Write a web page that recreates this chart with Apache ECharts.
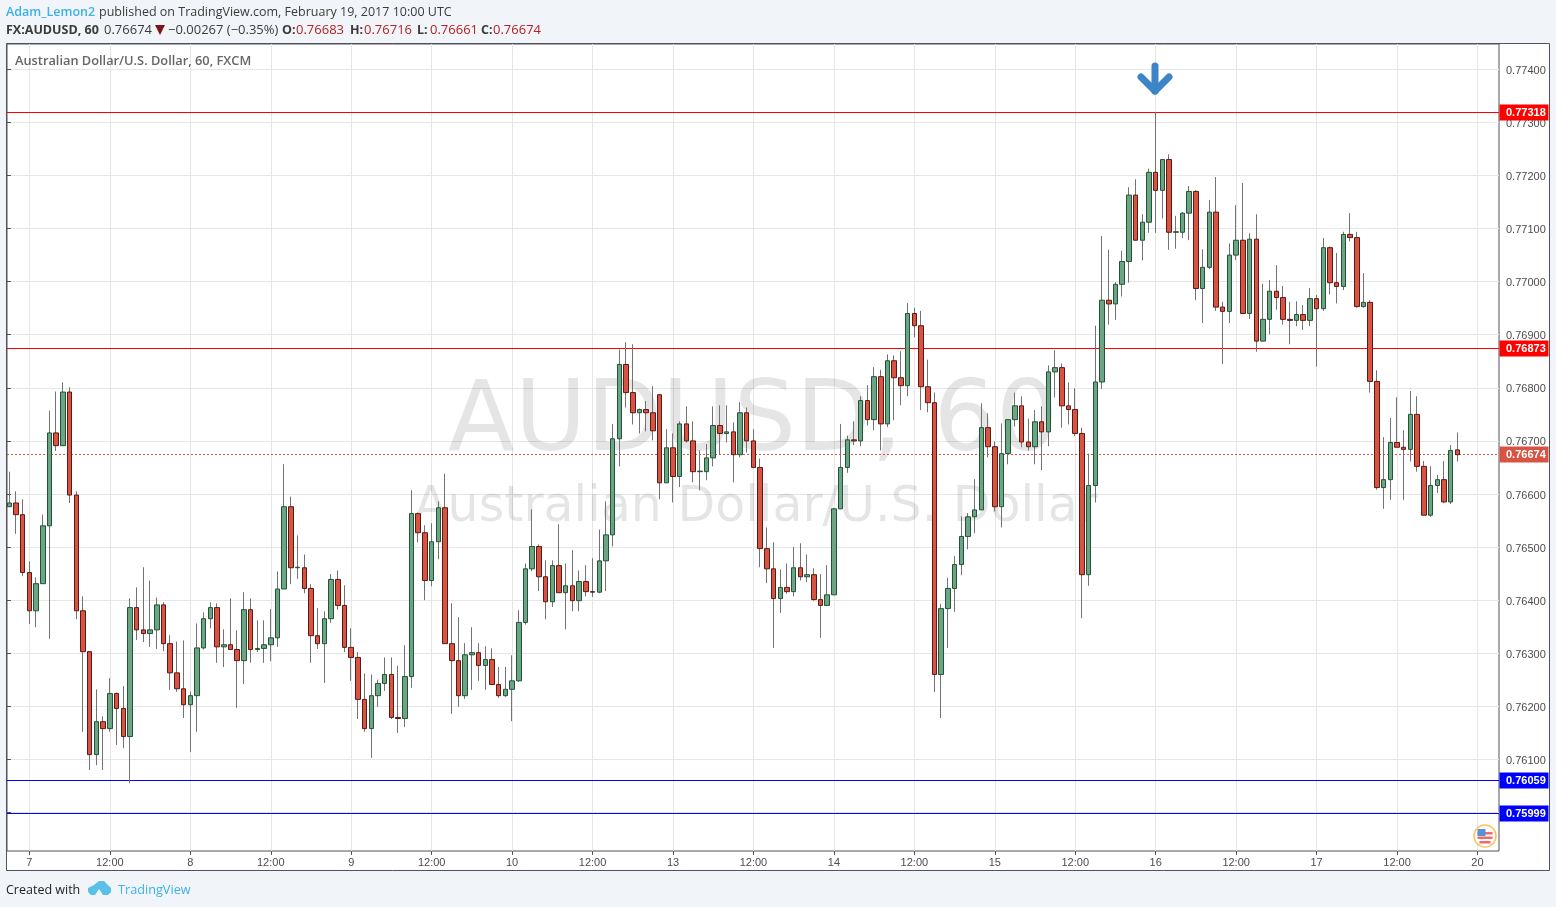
<!DOCTYPE html>
<html><head><meta charset="utf-8">
<style>html,body{margin:0;padding:0;background:#f1f4f8}#c{width:1556px;height:907px}</style>
<script src="https://cdn.jsdelivr.net/npm/echarts@6/dist/echarts.min.js"></script>
</head><body><div id="c"></div>
<script>
const tickLabels=["7","12:00","8","12:00","9","12:00","10","12:00","13","12:00","14","12:00","15","12:00","16","12:00","17","12:00","20"];
const priceTicks=[0.760,0.761,0.762,0.763,0.764,0.765,0.766,0.767,0.768,0.769,0.770,0.771,0.772,0.773,0.774];
const resistanceLabels=["0.77318","0.76873"];
const resistanceLevels=[0.77318,0.76874];
const supportLabels=["0.76059","0.75999"];
const supportLevels=[0.76060,0.75998];
const lastPrice=0.76674;
const opens=[0.76576,0.76583,0.76561,0.76452,0.76380,0.76431,0.76540,0.76715,0.76691,0.76792,
0.76598,0.76380,0.76303,0.76109,0.76171,0.76158,0.76224,0.76196,0.76143,0.76386,
0.76344,0.76337,0.76344,0.76391,0.76318,0.76263,0.76233,0.76203,0.76220,0.76310,
0.76365,0.76386,0.76312,0.76316,0.76307,0.76286,0.76382,0.76307,0.76309,0.76316,
0.76329,0.76421,0.76576,0.76461,0.76461,0.76422,0.76333,0.76318,0.76365,0.76439,
0.76390,0.76311,0.76292,0.76213,0.76158,0.76220,0.76243,0.76260,0.76179,0.76177,
0.76256,0.76563,0.76527,0.76437,0.76510,0.76574,0.76318,0.76286,0.76220,0.76297,
0.76301,0.76277,0.76288,0.76241,0.76220,0.76232,0.76248,0.76358,0.76459,0.76501,
0.76444,0.76397,0.76465,0.76414,0.76427,0.76399,0.76435,0.76416,0.76415,0.76474,
0.76523,0.76704,0.76844,0.76791,0.76753,0.76759,0.76753,0.76787,0.76621,0.76687,
0.76633,0.76732,0.76700,0.76642,0.76642,0.76668,0.76729,0.76714,0.76717,0.76674,
0.76753,0.76700,0.76650,0.76497,0.76459,0.76403,0.76424,0.76416,0.76461,0.76444,
0.76448,0.76401,0.76390,0.76410,0.76572,0.76650,0.76702,0.76700,0.76776,0.76740,
0.76821,0.76732,0.76851,0.76819,0.76804,0.76940,0.76917,0.76802,0.76772,0.76260,
0.76384,0.76422,0.76467,0.76520,0.76557,0.76570,0.76725,0.76689,0.76576,0.76676,
0.76740,0.76766,0.76698,0.76689,0.76736,0.76717,0.76830,0.76838,0.76766,0.76759,
0.76714,0.76448,0.76616,0.76811,0.76965,0.76958,0.76995,0.77038,0.77163,0.77078,
0.77112,0.77206,0.77172,0.77230,0.77093,0.77093,0.77129,0.77170,0.76987,0.77027,
0.77131,0.76952,0.76944,0.77050,0.77078,0.76940,0.77080,0.76888,0.76929,0.76982,
0.76970,0.76929,0.76927,0.76938,0.76927,0.76968,0.76949,0.77064,0.76998,0.76991,
0.77089,0.77083,0.76953,0.76961,0.76812,0.76612,0.76627,0.76697,0.76688,0.76684,
0.76750,0.76652,0.76560,0.76616,0.76627,0.76585,0.76683];
const closes=[0.76583,0.76561,0.76452,0.76380,0.76431,0.76540,0.76715,0.76691,0.76792,0.76598,
0.76380,0.76303,0.76109,0.76171,0.76158,0.76224,0.76196,0.76143,0.76386,0.76344,
0.76337,0.76344,0.76391,0.76318,0.76263,0.76233,0.76203,0.76220,0.76310,0.76365,
0.76386,0.76312,0.76316,0.76307,0.76286,0.76382,0.76307,0.76309,0.76316,0.76329,
0.76421,0.76576,0.76461,0.76462,0.76422,0.76333,0.76318,0.76365,0.76439,0.76390,
0.76311,0.76292,0.76213,0.76158,0.76220,0.76243,0.76260,0.76179,0.76177,0.76256,
0.76563,0.76527,0.76437,0.76510,0.76574,0.76318,0.76286,0.76220,0.76297,0.76301,
0.76277,0.76288,0.76241,0.76220,0.76232,0.76248,0.76358,0.76459,0.76501,0.76444,
0.76397,0.76465,0.76414,0.76427,0.76399,0.76435,0.76416,0.76415,0.76474,0.76523,
0.76704,0.76844,0.76791,0.76753,0.76759,0.76753,0.76719,0.76621,0.76687,0.76633,
0.76732,0.76700,0.76642,0.76643,0.76668,0.76729,0.76714,0.76717,0.76674,0.76753,
0.76700,0.76650,0.76497,0.76459,0.76403,0.76424,0.76416,0.76461,0.76444,0.76448,
0.76401,0.76390,0.76410,0.76572,0.76650,0.76702,0.76700,0.76776,0.76740,0.76821,
0.76732,0.76851,0.76819,0.76804,0.76940,0.76917,0.76802,0.76772,0.76260,0.76384,
0.76422,0.76467,0.76520,0.76557,0.76570,0.76725,0.76689,0.76576,0.76676,0.76740,
0.76766,0.76698,0.76689,0.76736,0.76717,0.76830,0.76838,0.76766,0.76759,0.76714,
0.76448,0.76616,0.76811,0.76965,0.76958,0.76995,0.77038,0.77163,0.77078,0.77112,
0.77206,0.77172,0.77230,0.77093,0.77094,0.77129,0.77170,0.76987,0.77027,0.77131,
0.76952,0.76944,0.77050,0.77078,0.76940,0.77080,0.76888,0.76929,0.76982,0.76970,
0.76929,0.76927,0.76938,0.76927,0.76968,0.76949,0.77064,0.76998,0.76991,0.77089,
0.77083,0.76953,0.76961,0.76812,0.76612,0.76627,0.76697,0.76688,0.76684,0.76750,
0.76652,0.76560,0.76616,0.76627,0.76585,0.76682,0.76674];
const highs=[0.76642,0.76605,0.76590,0.76473,0.76443,0.76561,0.76757,0.76793,0.76810,0.76801,
0.76605,0.76407,0.76303,0.76232,0.76181,0.76253,0.76226,0.76238,0.76403,0.76424,
0.76462,0.76437,0.76405,0.76396,0.76334,0.76322,0.76324,0.76228,0.76356,0.76377,
0.76396,0.76394,0.76345,0.76403,0.76343,0.76415,0.76403,0.76362,0.76362,0.76383,
0.76454,0.76656,0.76595,0.76522,0.76486,0.76430,0.76385,0.76379,0.76449,0.76456,
0.76428,0.76347,0.76302,0.76262,0.76260,0.76250,0.76292,0.76292,0.76276,0.76315,
0.76607,0.76565,0.76541,0.76545,0.76586,0.76638,0.76394,0.76368,0.76319,0.76349,
0.76319,0.76313,0.76309,0.76274,0.76274,0.76296,0.76381,0.76469,0.76571,0.76505,
0.76475,0.76475,0.76543,0.76469,0.76494,0.76456,0.76466,0.76479,0.76533,0.76586,
0.76732,0.76872,0.76886,0.76882,0.76761,0.76775,0.76803,0.76787,0.76722,0.76714,
0.76737,0.76765,0.76737,0.76682,0.76694,0.76765,0.76767,0.76767,0.76735,0.76773,
0.76763,0.76722,0.76667,0.76537,0.76509,0.76458,0.76469,0.76500,0.76507,0.76486,
0.76460,0.76449,0.76466,0.76574,0.76732,0.76710,0.76737,0.76784,0.76805,0.76839,
0.76834,0.76863,0.76861,0.76869,0.76960,0.76951,0.76945,0.76853,0.76791,0.76393,
0.76442,0.76483,0.76558,0.76564,0.76628,0.76771,0.76752,0.76699,0.76733,0.76740,
0.76791,0.76784,0.76742,0.76758,0.76765,0.76842,0.76871,0.76846,0.76810,0.76799,
0.76725,0.76676,0.76917,0.77086,0.77060,0.76999,0.77058,0.77178,0.77193,0.77127,
0.77213,0.77319,0.77230,0.77240,0.77124,0.77131,0.77180,0.77172,0.77061,0.77154,
0.77197,0.76962,0.77072,0.77144,0.77186,0.77091,0.77127,0.76996,0.77003,0.77031,
0.76992,0.76962,0.76963,0.76956,0.76988,0.76975,0.77082,0.77066,0.77054,0.77094,
0.77129,0.77094,0.77016,0.76965,0.76833,0.76707,0.76743,0.76782,0.76720,0.76794,
0.76784,0.76662,0.76652,0.76636,0.76662,0.76692,0.76716];
const lows=[0.76576,0.76525,0.76445,0.76355,0.76349,0.76431,0.76327,0.76681,0.76691,0.76583,
0.76364,0.76152,0.76080,0.76089,0.76080,0.76152,0.76127,0.76121,0.76055,0.76325,
0.76321,0.76312,0.76308,0.76304,0.76231,0.76227,0.76178,0.76114,0.76152,0.76307,
0.76347,0.76282,0.76274,0.76307,0.76197,0.76242,0.76282,0.76302,0.76282,0.76285,
0.76312,0.76421,0.76430,0.76440,0.76413,0.76282,0.76308,0.76244,0.76357,0.76382,
0.76302,0.76248,0.76176,0.76152,0.76103,0.76199,0.76229,0.76176,0.76150,0.76161,
0.76235,0.76509,0.76400,0.76426,0.76477,0.76318,0.76186,0.76199,0.76214,0.76231,
0.76248,0.76231,0.76241,0.76216,0.76218,0.76172,0.76246,0.76354,0.76455,0.76417,
0.76364,0.76387,0.76414,0.76345,0.76379,0.76379,0.76407,0.76406,0.76413,0.76417,
0.76501,0.76652,0.76763,0.76731,0.76714,0.76718,0.76701,0.76590,0.76621,0.76584,
0.76613,0.76697,0.76622,0.76607,0.76626,0.76652,0.76675,0.76697,0.76622,0.76669,
0.76678,0.76650,0.76462,0.76432,0.76310,0.76376,0.76412,0.76407,0.76437,0.76434,
0.76399,0.76329,0.76390,0.76410,0.76572,0.76640,0.76692,0.76690,0.76729,0.76720,
0.76682,0.76726,0.76739,0.76767,0.76784,0.76895,0.76758,0.76754,0.76227,0.76178,
0.76310,0.76378,0.76447,0.76496,0.76526,0.76570,0.76669,0.76567,0.76537,0.76656,
0.76727,0.76688,0.76682,0.76656,0.76645,0.76690,0.76782,0.76725,0.76731,0.76709,
0.76366,0.76427,0.76584,0.76798,0.76919,0.76928,0.76972,0.76998,0.77078,0.77040,
0.77092,0.77092,0.77119,0.77060,0.77062,0.77082,0.77078,0.76965,0.76922,0.77024,
0.76945,0.76845,0.76922,0.77041,0.76940,0.76930,0.76868,0.76888,0.76901,0.76947,
0.76919,0.76882,0.76916,0.76909,0.76916,0.76840,0.76945,0.76976,0.76959,0.76984,
0.77076,0.76951,0.76951,0.76791,0.76608,0.76572,0.76589,0.76688,0.76589,0.76661,
0.76642,0.76560,0.76557,0.76602,0.76583,0.76581,0.76661];

const BAR_SLOTS=223, FIRST_TICK=3, TICK_STEP=12;
const categories=[]; for(let k=0;k<BAR_SLOTS;k++) categories.push('bar'+k);
const tickAt=k=>(k-FIRST_TICK)%TICK_STEP===0 && k>=FIRST_TICK && tickLabels[(k-FIRST_TICK)/TICK_STEP]!==undefined;
const wickData=opens.map((o,i)=>[o,closes[i],lows[i],highs[i]]);
const bodyData=opens.map((o,i)=>[o,closes[i],Math.min(o,closes[i]),Math.max(o,closes[i])]);

const yMin=0.759274, yMax=0.774477;
const TXT='#3b3b3b', AX='#4c4c4c', GRID='#e6e6e6', LINE='#50535e';
const headFont='"Open Sans",sans-serif', axFont='"Liberation Sans",Arial,sans-serif';
function txt(x,y,s,fill,size,weight,font){return {type:'text',x,y,z:20,style:{text:s,fill,font:(weight||'normal')+' '+(size||13)+'px '+(font||headFont),textVerticalAlign:'middle',textAlign:'left'}};}
function levelSeries(v,label,color,dash){return {type:'custom',name:'level '+label,xAxisIndex:0,yAxisIndex:0,
  data:[[0,v]],z:2,silent:true,clip:false,
  renderItem:(params,api)=>{
    const cs=params.coordSys, y=Math.round(api.coord([0,v])[1]-0.5)+0.5, right=cs.x+cs.width;
    return {type:'group',children:[
      {type:'line',shape:{x1:cs.x,y1:y,x2:right,y2:y},style:{stroke:color,lineWidth:1,lineDash:dash||null,fill:null}},
      {type:'rect',shape:{x:right+0.5,y:y-8,width:49,height:16},style:{fill:color}},
      {type:'text',x:right+7,y:y+0.5,style:{text:label,fill:'#fff',font:'bold 11px '+axFont,textAlign:'left',textVerticalAlign:'middle'}}
    ]};
  }};}

const graphic=[
 {type:'rect',z:-1,shape:{x:6.5,y:43.5,width:1543,height:827},style:{fill:'#fff',stroke:LINE,lineWidth:1}},
 {type:'text',z:1,x:753,y:425,style:{text:'AUDUSD, 60',fill:'rgba(0,0,0,0.1)',font:'normal 98px "DejaVu Sans"',textAlign:'center',textVerticalAlign:'middle'}},
 {type:'text',z:1,x:756,y:508,style:{text:'Australian Dollar/U.S. Dollar',fill:'rgba(0,0,0,0.1)',font:'normal 49px "DejaVu Sans"',textAlign:'center',textVerticalAlign:'middle'}},
 txt(6,12.5,'Adam_Lemon2','#3bb3e4',12.5,'600'),
 txt(99,12.5,'published on TradingView.com, February 19, 2017 10:00 UTC',TXT,12.5),
 txt(6,30,'FX:AUDUSD, 60',TXT,12.5,'bold'),
 txt(104,30,'0.76674',TXT,13),
 {type:'polygon',z:20,shape:{points:[[155,25],[165,25],[160,35]]},style:{fill:'#7f1414'}},
 txt(168,30,'\u22120.00267 (\u22120.35%)',TXT,13),
 txt(282,30,'O:',TXT,12.5,'bold'),txt(296,30,'0.76683','#b22222',13),
 txt(350,30,'H:',TXT,12.5,'bold'),txt(364,30,'0.76716','#b22222',13),
 txt(417,30,'L:',TXT,12.5,'bold'),txt(430,30,'0.76661','#b22222',13),
 txt(481,30,'C:',TXT,12.5,'bold'),txt(493,30,'0.76674','#b22222',13),
 txt(15,61,'Australian Dollar/U.S. Dollar, 60, FXCM','#666',12.8,'600'),
 txt(6,890,'Created with','#222',12.5),
 txt(118,890,'TradingView','#3bb3e4',12.7),
 {type:'polygon',z:20,shape:{points:[[88,892],[88,888],[94,885],[99,881],[104,881],[111,888],[111,892],[108,895],[103,895],[99,889],[95,895],[91,895]]},style:{fill:'#5bc0e5'}},
 {type:'polyline',z:20,shape:{points:[[1155,66],[1155,91]]},style:{stroke:'#3d85c6',lineWidth:7,lineCap:'round',fill:null}},
 {type:'polyline',z:20,shape:{points:[[1141,77],[1155,91],[1169,77]]},style:{stroke:'#3d85c6',lineWidth:7,lineCap:'round',lineJoin:'round',fill:null}},
 {type:'circle',z:20,shape:{cx:1485,cy:836,r:11},style:{fill:'#fff',stroke:'#ffc062',lineWidth:1.5}},
 {type:'rect',z:21,shape:{x:1477.5,y:832,width:15,height:2.5},style:{fill:'#f2696a'}},
 {type:'rect',z:21,shape:{x:1477.5,y:836.5,width:15,height:2.5},style:{fill:'#f2696a'}},
 {type:'rect',z:21,shape:{x:1479.5,y:841,width:11,height:2.5},style:{fill:'#f2696a'}},
 {type:'rect',z:21,shape:{x:1477.5,y:829,width:8,height:7},style:{fill:'#5b8fd6'}}
];

const option={
 backgroundColor:'#f1f4f8',animation:false,graphic,
 grid:[
  {left:7,top:44,width:1492,height:807,show:true,borderColor:LINE,borderWidth:1,backgroundColor:'transparent'},
  {left:9.3,top:44,width:1488.3,height:807}
 ],
 xAxis:[
  {gridIndex:0,type:'value',min:0,max:1,show:false},
  {gridIndex:1,type:'category',data:categories,boundaryGap:false,
   axisLine:{show:false},
   axisTick:{show:true,interval:tickAt,length:4,lineStyle:{color:LINE}},
   axisLabel:{interval:tickAt,margin:6,color:AX,fontFamily:axFont,fontSize:11,hideOverlap:false,
     formatter:(v,i)=>tickLabels[(i-FIRST_TICK)/TICK_STEP]||''},
   splitLine:{show:true,interval:tickAt,lineStyle:{color:GRID,width:1}}}
 ],
 yAxis:[
  {gridIndex:0,type:'value',position:'right',min:yMin,max:yMax,
   axisLine:{show:false},
   axisTick:{show:true,length:4,customValues:priceTicks,lineStyle:{color:LINE}},
   axisLabel:{customValues:priceTicks,margin:7,verticalAlign:'top',lineHeight:3,color:AX,fontFamily:axFont,fontSize:11,formatter:v=>v.toFixed(5)},
   splitLine:{show:true,lineStyle:{color:GRID,width:1}}},
  {gridIndex:1,type:'value',min:yMin,max:yMax,show:false}
 ],
 series:[
  ...resistanceLevels.map((v,i)=>levelSeries(v,resistanceLabels[i],'#ff0000')),
  ...supportLevels.map((v,i)=>levelSeries(v,supportLabels[i],'#0000ff')),
  levelSeries(lastPrice,lastPrice.toFixed(5),'#d75442',[2,2]),
  {type:'candlestick',name:'wicks',xAxisIndex:1,yAxisIndex:1,data:wickData,barWidth:0,clip:false,z:3,silent:true,
   itemStyle:{color:'#737375',color0:'#737375',borderColor:'#737375',borderColor0:'#737375',borderColorDoji:'#737375',borderWidth:1}},
  {type:'candlestick',name:'AUDUSD',xAxisIndex:1,yAxisIndex:1,data:bodyData,barWidth:5,clip:false,z:4,silent:true,
   itemStyle:{color:'#6ba583',color0:'#d75442',borderColor:'#225437',borderColor0:'#5b1a13',borderColorDoji:'#225437',borderWidth:1}}
 ]
};
const chart=echarts.init(document.getElementById('c'),null,{renderer:'canvas',width:1556,height:907});
chart.setOption(option);
</script>
</body></html>
